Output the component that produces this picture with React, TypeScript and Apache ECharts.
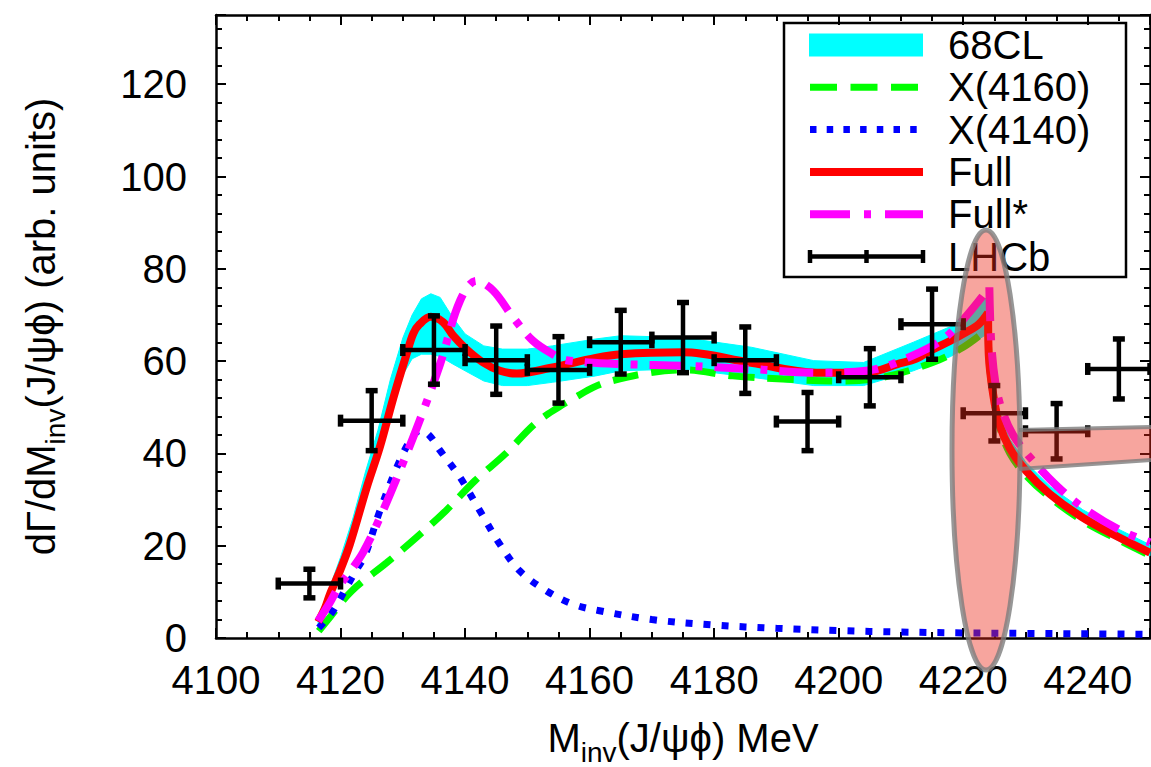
import React, { useEffect, useRef } from 'react';
import * as echarts from 'echarts';

// ---- LHCb data ----
const lhcbX = [4115, 4125, 4135, 4145, 4155, 4165, 4175, 4185, 4195, 4205, 4215, 4225, 4235, 4245];
const lhcbY = [11.8, 47.1, 62.4, 60.2, 58.1, 64.1, 65.1, 60.2, 46.9, 56.5, 68.0, 48.7, 44.8, 58.3];
const lhcbErrY = [3.1, 6.5, 7.4, 7.4, 7.2, 6.9, 7.6, 7.2, 6.3, 6.2, 7.6, 6.0, 6.0, 6.5];
const lhcbErrX = [5, 5, 5, 5, 5, 5, 5, 5, 5, 5, 5, 5, 5, 5];

// ---- Full (red) ----
const fullLX = [4116.4, 4117.5, 4118.3, 4119.9, 4121.5, 4124.2, 4126.3, 4128.5, 4130.6, 4131.7, 4132.7, 4134.5, 4136.5, 4138.1, 4140.2, 4142.9, 4145.6, 4148.3, 4153.6, 4161, 4165, 4175, 4185.7, 4196.4, 4204.4, 4209.8, 4212.4, 4215.1, 4217.8, 4220.5, 4222.5, 4224.0];
const fullLY = [3.5, 6.5, 9.5, 14.5, 20.3, 32.6, 41.3, 52.1, 61.5, 66.0, 68.0, 69.6, 68.4, 65.5, 62.6, 59.7, 57.9, 57.3, 58.5, 60.7, 61.5, 61.9, 59.7, 57.5, 57.5, 59.5, 60.5, 62.5, 64.3, 66.3, 68.0, 70.5];
const fullRX = [4224.0, 4224.1, 4224.8, 4225.8, 4227.4, 4230.1, 4233.9, 4239.2, 4244.6, 4250];
const fullRY = [70.5, 61.5, 52.9, 46.4, 41.3, 36.2, 31.2, 26.1, 22.1, 18.5];

// ---- 68CL band (cyan) ----
const bandLX = [4116.4, 4118, 4120, 4122, 4124, 4126, 4128, 4130, 4131.5, 4133, 4134.5, 4136, 4138, 4140, 4143, 4146, 4150, 4154, 4161, 4165, 4175, 4186, 4196, 4204, 4212, 4218, 4224];
const bandLLo = [3, 7.5, 14.5, 22, 30.5, 39, 48, 57, 60.5, 61.5, 61.5, 61, 59.4, 57.9, 55.7, 54.7, 54.7, 55.4, 56.8, 57.9, 58.3, 56.5, 54.7, 54.7, 57.9, 61, 66];
const bandLHi = [4.5, 10, 17.5, 26, 36, 45, 56, 65, 70, 73.5, 74.6, 73.8, 69.5, 65.9, 63.3, 62.6, 62.6, 63.3, 64.8, 65.5, 65.1, 63, 60.1, 59.7, 64.1, 67.5, 74];
const bandRX = [4224, 4224.2, 4224.9, 4225.9, 4227.5, 4230.1, 4234, 4239.2, 4244.6, 4250];
const bandRLo = [66, 60.5, 52, 45.5, 40.5, 35.4, 30.4, 25.3, 21.3, 17.8];
const bandRHi = [74, 63.5, 55, 48.5, 43, 38, 32.8, 27.8, 23.8, 20.2];

// ---- X(4160) (green dashed) ----
const greenLX = [4116.5, 4118.3, 4121.8, 4127.4, 4132.2, 4137.0, 4141.6, 4146.4, 4151.2, 4155.0, 4157.9, 4160.6, 4163.2, 4169.7, 4175, 4183, 4191, 4200.7, 4207.1, 4215.1, 4220, 4224];
const greenLY = [1.5, 4.5, 10.2, 16.3, 21.8, 27.7, 34.1, 39.8, 46.4, 50.0, 52.3, 54.3, 55.6, 57.5, 58.1, 56.8, 56.1, 55.7, 56.5, 59.7, 63, 67];
const greenRX = [4224, 4224.2, 4225, 4226, 4227.5, 4230.1, 4234, 4239.2, 4244.6, 4250];
const greenRY = [67, 59.5, 51, 45, 40, 35.2, 30.4, 25.4, 21.5, 17.9];

// ---- X(4140) (blue dotted) ----
const blueX = [4116.5, 4118.6, 4119.9, 4121.2, 4122.6, 4123.9, 4126.3, 4129.5, 4131.5, 4132.8, 4134.2, 4136, 4139.2, 4142.4, 4145.6, 4148.8, 4153.1, 4157.4, 4161.6, 4170, 4180, 4190, 4200, 4210, 4220, 4230, 4240, 4250];
const blueY = [2.2, 5.5, 8.4, 11.6, 14.9, 17.8, 27.5, 38.4, 43.5, 45, 44, 40.6, 34.8, 27.5, 20.3, 14.5, 10.2, 7.3, 5.9, 4, 2.8, 2.1, 1.6, 1.3, 1.1, 1.0, 0.9, 0.8];

// ---- Full* (magenta dash-dot) ----
const magLX = [4116.4, 4118.3, 4119.6, 4121.2, 4123.6, 4126.3, 4129.5, 4132.7, 4136, 4139.2, 4141.8, 4144.5, 4147.7, 4150.9, 4154.1, 4156.3, 4164.3, 4175, 4185.7, 4196.4, 4204.4, 4212.4, 4217.8, 4224.2];
const magLY = [3.7, 7.7, 10.9, 13.8, 18.5, 26, 36.2, 47.1, 59.4, 73.1, 77.4, 75.3, 69.5, 64.4, 61.5, 60.2, 59.4, 59, 58.3, 57.5, 57.9, 61.5, 65.9, 76];
const magRX = [4224.2, 4224.5, 4225.2, 4226.2, 4228, 4231.2, 4235, 4239.2, 4245, 4250];
const magRY = [76, 64, 55, 49.5, 44, 38.4, 33, 28.3, 23.5, 20.7];

// ---- axes ----
const xMin = 4100, xMax = 4250, xStep = 20;
const yMin = 0, yMax = 135, yStep = 20;

// ---- legend ----
const legendNames = ['68CL', 'X(4160)', 'X(4140)', 'Full', 'Full*', 'LHCb'];

const FONT = "'Liberation Sans', Arial, Helvetica, sans-serif";
const zip = (xs: number[], ys: number[]) => xs.map((x, i) => [x, ys[i]]);

const CYAN = '#00ffff', GREEN = '#00ff00', BLUE = '#0000ff', RED = '#ff0000', MAGENTA = '#ff00ff';
const OVER_FILL = 'rgba(235,40,25,0.42)';
const OVER_STROKE = 'rgba(125,125,125,0.8)';

export default function App() {
  const ref = useRef<HTMLDivElement>(null);
  useEffect(() => {
    document.body.style.margin = '0';
    if (!ref.current) return;
    const chart = echarts.init(ref.current, null, { renderer: 'svg' });

    const axisCommon = (pos: string, isX: boolean, showLabel: boolean) => ({
      type: 'value',
      position: pos,
      min: isX ? xMin : yMin,
      max: isX ? xMax : yMax,
      interval: isX ? xStep : yStep,
      splitLine: { show: false },
      axisLine: { show: true, onZero: false, lineStyle: { color: '#000', width: 2.5 } },
      axisTick: { show: true, inside: true, length: 10, lineStyle: { color: '#000', width: 2 } },
      minorTick: { show: true, splitNumber: isX ? 4 : 5, length: 6, lineStyle: { color: '#000', width: 2 } },
      axisLabel: {
        show: showLabel,
        color: '#000',
        fontSize: 40,
        fontFamily: FONT,
        margin: isX ? 22 : 29,
        showMaxLabel: false,
        formatter: (v: number) => String(v),
      },
    });

    const lineSeries = (name: string, data: number[][], color: string, width: number, type: any, z: number) => ({
      type: 'line',
      name,
      data,
      smooth: 0.35,
      symbol: 'none',
      z,
      lineStyle: { color, width, type, cap: 'butt' },
      itemStyle: { color },
      emphasis: { disabled: true },
      silent: true,
    });

    // legend drawn as graphic elements
    const LX = 784, LY = 23, LW = 342, LH = 254;
    const rowY = (i: number) => 45 + i * 42.3;
    const sx0 = 809, sx1 = 923;
    const legendEls: any[] = [
      { type: 'rect', shape: { x: LX, y: LY, width: LW, height: LH }, style: { fill: 'none', stroke: '#000', lineWidth: 2.5 } },
      { type: 'rect', shape: { x: sx0, y: rowY(0) - 11.5, width: sx1 - sx0, height: 23 }, style: { fill: CYAN } },
      { type: 'line', shape: { x1: 810, y1: rowY(1), x2: 918, y2: rowY(1) }, style: { stroke: GREEN, lineWidth: 7, lineDash: [27, 13.5] } },
      { type: 'line', shape: { x1: 810, y1: rowY(2), x2: 918, y2: rowY(2) }, style: { stroke: BLUE, lineWidth: 7, lineDash: [6.5, 10.2] } },
      { type: 'line', shape: { x1: 810, y1: rowY(3), x2: 923, y2: rowY(3) }, style: { stroke: RED, lineWidth: 8 } },
      { type: 'line', shape: { x1: 810, y1: rowY(4), x2: 923, y2: rowY(4) }, style: { stroke: MAGENTA, lineWidth: 8, lineDash: [40, 14, 7, 14] } },
      { type: 'line', shape: { x1: 810, y1: rowY(5), x2: 923, y2: rowY(5) }, style: { stroke: '#000', lineWidth: 4.5 } },
      { type: 'line', shape: { x1: 810, y1: rowY(5) - 6.5, x2: 810, y2: rowY(5) + 6.5 }, style: { stroke: '#000', lineWidth: 4.5 } },
      { type: 'line', shape: { x1: 866.5, y1: rowY(5) - 6.5, x2: 866.5, y2: rowY(5) + 6.5 }, style: { stroke: '#000', lineWidth: 4.5 } },
      { type: 'line', shape: { x1: 923, y1: rowY(5) - 6.5, x2: 923, y2: rowY(5) + 6.5 }, style: { stroke: '#000', lineWidth: 4.5 } },
    ];
    legendNames.forEach((n, i) => {
      legendEls.push({
        type: 'text',
        x: 948,
        y: rowY(i),
        style: { text: n, fill: '#000', fontSize: 40, fontFamily: FONT, verticalAlign: 'middle', align: 'left' },
      });
    });

    const option: any = {
      animation: false,
      grid: { left: 216, top: 15, width: 934, height: 623, outerBoundsMode: 'none', containLabel: false },
      xAxis: [
        {
          ...axisCommon('bottom', true, true),
          name: 'M{sub|inv}(J/ψϕ) MeV',
          nameLocation: 'middle',
          nameGap: 72,
          nameTextStyle: {
            color: '#000', fontSize: 40, fontFamily: FONT, lineHeight: 56,
            rich: { sub: { fontSize: 28, fontFamily: FONT, color: '#000', lineHeight: 30, verticalAlign: 'bottom' } },
          },
        },
        { ...axisCommon('top', true, false) },
      ],
      yAxis: [
        {
          ...axisCommon('left', false, true),
          name: 'dΓ/dM{sub|inv}(J/ψϕ) (arb. units)',
          nameLocation: 'middle',
          nameGap: 147,
          nameTextStyle: {
            color: '#000', fontSize: 40, fontFamily: FONT, lineHeight: 56,
            rich: { sub: { fontSize: 28, fontFamily: FONT, color: '#000', lineHeight: 30, verticalAlign: 'bottom' } },
          },
        },
        { ...axisCommon('right', false, false) },
      ],
      series: [
        {
          type: 'custom',
          name: '68CL',
          z: 1,
          silent: true,
          itemStyle: { color: CYAN },
          encode: { x: 0, y: [1, 2] },
          data: bandLX.map((x, i) => [x, bandLLo[i], bandLHi[i]]),
          renderItem: (params: any, api: any) => {
            if (params.dataIndex !== 0) return { type: 'group', children: [] };
            const poly = (xs: number[], lo: number[], hi: number[]) => {
              const pts: number[][] = [];
              xs.forEach((x, i) => pts.push(api.coord([x, hi[i]])));
              for (let i = xs.length - 1; i >= 0; i--) pts.push(api.coord([xs[i], lo[i]]));
              return { type: 'polygon', shape: { points: pts }, style: { fill: CYAN, stroke: CYAN, lineWidth: 1 } };
            };
            return {
              type: 'group',
              children: [poly(bandLX, bandLLo, bandLHi), poly(bandRX, bandRLo, bandRHi)],
            };
          },
        },
        lineSeries('X(4160)', zip(greenLX, greenLY), GREEN, 7, [26, 13], 2),
        lineSeries('X(4160)', zip(greenRX, greenRY), GREEN, 7, [26, 13], 2),
        lineSeries('X(4140)', zip(blueX, blueY), BLUE, 7, [7, 11], 3),
        lineSeries('Full', zip(fullLX, fullLY), RED, 8, 'solid', 4),
        lineSeries('Full', zip(fullRX, fullRY), RED, 8, 'solid', 4),
        lineSeries('Full*', zip(magLX, magLY), MAGENTA, 8, [34, 12, 7, 12], 5),
        lineSeries('Full*', zip(magRX, magRY), MAGENTA, 8, [34, 12, 7, 12], 5),
        {
          type: 'custom',
          name: 'LHCb',
          z: 6,
          silent: true,
          itemStyle: { color: '#000' },
          encode: { x: 0, y: 1 },
          data: lhcbX.map((x, i) => [x, lhcbY[i], lhcbErrX[i], lhcbErrY[i]]),
          renderItem: (params: any, api: any) => {
            const x = api.value(0), y = api.value(1), ex = api.value(2), ey = api.value(3);
            const l = api.coord([x - ex, y]);
            const r = api.coord([x + ex, y]);
            const t = api.coord([x, y + ey]);
            const b = api.coord([x, y - ey]);
            const st = { stroke: '#000', lineWidth: 4.5 };
            const cs = { stroke: '#000', lineWidth: 5.5 };
            const c = 6;
            return {
              type: 'group',
              children: [
                { type: 'line', shape: { x1: l[0], y1: l[1], x2: r[0], y2: r[1] }, style: st },
                { type: 'line', shape: { x1: t[0], y1: t[1], x2: b[0], y2: b[1] }, style: st },
                { type: 'line', shape: { x1: l[0], y1: l[1] - c, x2: l[0], y2: l[1] + c }, style: cs },
                { type: 'line', shape: { x1: r[0], y1: r[1] - c, x2: r[0], y2: r[1] + c }, style: cs },
                { type: 'line', shape: { x1: t[0] - c, y1: t[1], x2: t[0] + c, y2: t[1] }, style: cs },
                { type: 'line', shape: { x1: b[0] - c, y1: b[1], x2: b[0] + c, y2: b[1] }, style: cs },
              ],
            };
          },
        },
      ],
      graphic: [
        { type: 'group', z: 50, silent: true, children: legendEls },
        {
          type: 'polygon',
          z: 100,
          silent: true,
          shape: { points: [[1020, 430], [1151, 427], [1151, 460], [1020, 469]] },
          style: { fill: OVER_FILL },
        },
        {
          type: 'polyline',
          z: 100,
          silent: true,
          shape: { points: [[1019, 430], [1151, 427]] },
          style: { stroke: OVER_STROKE, lineWidth: 4, fill: 'none' },
        },
        {
          type: 'polyline',
          z: 100,
          silent: true,
          shape: { points: [[1019, 469], [1151, 460]] },
          style: { stroke: OVER_STROKE, lineWidth: 4, fill: 'none' },
        },
        {
          type: 'ellipse',
          z: 101,
          silent: true,
          shape: { cx: 986, cy: 450, rx: 34, ry: 220 },
          style: { fill: OVER_FILL, stroke: OVER_STROKE, lineWidth: 5 },
        },
      ],
    };
    chart.setOption(option);
    return () => chart.dispose();
  }, []);
  return <div ref={ref} style={{ width: 1151, height: 767 }} />;
}
